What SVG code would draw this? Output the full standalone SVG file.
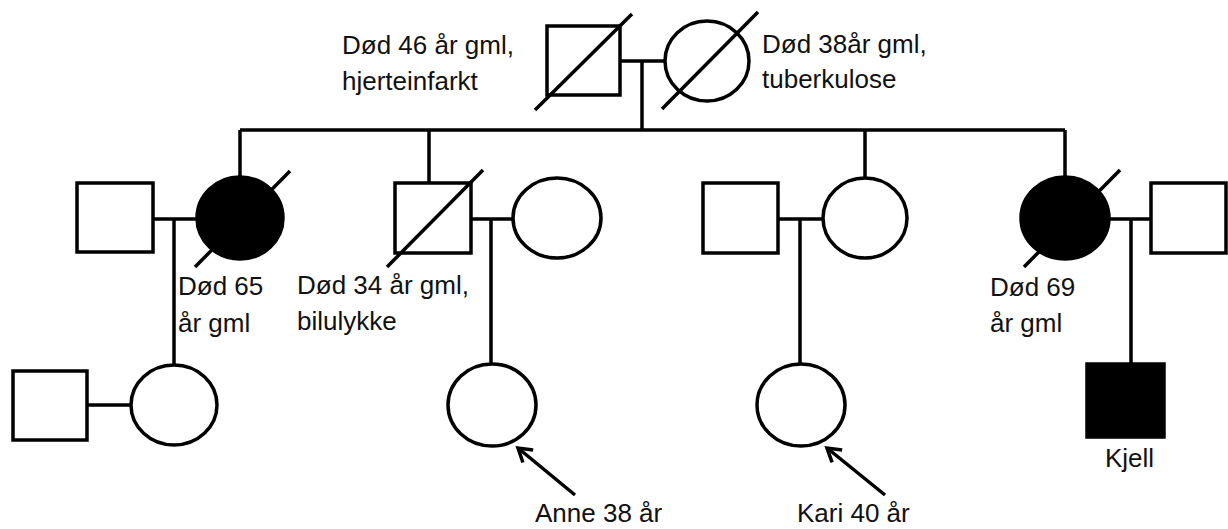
<svg xmlns="http://www.w3.org/2000/svg" width="1228" height="529" viewBox="0 0 1228 529">
<defs>
<style>
.s{fill:#fff;stroke:#000;stroke-width:3.5}
.f{fill:#000;stroke:#000;stroke-width:3.5}
.l{fill:none;stroke:#000;stroke-width:3.5}
.d{fill:none;stroke:#000;stroke-width:3.5}
text{font-family:"Liberation Sans",Arial,sans-serif;font-size:26px;fill:#111}
</style>
<marker id="ah" viewBox="0 0 24 24" refX="21" refY="12" markerWidth="24" markerHeight="24" markerUnits="userSpaceOnUse" orient="auto">
<path d="M8,4 L21,12 L8,20" fill="none" stroke="#000" stroke-width="3.5"/>
</marker>
</defs>
<rect width="1228" height="529" fill="#fff"/>
<g id="connectors">
<path class="l" d="M620,61H665M642,61V130M240,130H1065M240,130V177M429,130V183M865,130V178M1065,130V177"/>
<path class="l" d="M153,219H197M174,219V365M87,405H131"/>
<path class="l" d="M471,219H513M491,219V365"/>
<path class="l" d="M778,219H823M800,219V365"/>
<path class="l" d="M1109,219H1151M1131,219V364"/>
<path class="l" d="M575,495L518,448" marker-end="url(#ah)"/>
<path class="l" d="M885,495L827,448" marker-end="url(#ah)"/>
</g>
<g id="gf">
<rect class="s" x="547" y="26" width="73" height="69"/>
<path class="d" d="M535,110L632,14"/>
<text x="342" y="54">Død 46 år gml,</text>
<text x="342" y="90">hjerteinfarkt</text>
</g>
<g id="gm">
<ellipse class="s" cx="707" cy="61" rx="42" ry="40"/>
<path class="d" d="M662,109L758,12"/>
<text x="762" y="53">Død 38år gml,</text>
<text x="762" y="88">tuberkulose</text>
</g>
<g id="spouse1"><rect class="s" x="77" y="183" width="76" height="69"/></g>
<g id="aunt1">
<ellipse class="f" cx="240" cy="218" rx="43" ry="41"/>
<path class="d" d="M195,267L290,171"/>
<text x="178" y="295">Død 65</text>
<text x="178" y="332">år gml</text>
</g>
<g id="father">
<rect class="s" x="395" y="183" width="76" height="70"/>
<path class="d" d="M387,267L483,170"/>
<text x="297" y="294">Død 34 år gml,</text>
<text x="297" y="330">bilulykke</text>
</g>
<g id="mother"><ellipse class="s" cx="557" cy="218" rx="44" ry="40"/></g>
<g id="spouse3"><rect class="s" x="703" y="183" width="75" height="70"/></g>
<g id="aunt2"><ellipse class="s" cx="865" cy="218" rx="42" ry="40"/></g>
<g id="aunt3">
<ellipse class="f" cx="1065" cy="218" rx="44" ry="41"/>
<path class="d" d="M1024,267L1120,170"/>
<text x="990" y="296">Død 69</text>
<text x="990" y="332">år gml</text>
</g>
<g id="spouse4"><rect class="s" x="1151" y="183" width="75" height="70"/></g>
<g id="cousin1spouse"><rect class="s" x="13" y="371" width="74" height="69"/></g>
<g id="cousin1"><ellipse class="s" cx="174" cy="405" rx="43" ry="40"/></g>
<g id="anne">
<ellipse class="s" cx="492" cy="405" rx="44" ry="41"/>
<text x="535" y="522">Anne 38 år</text>
</g>
<g id="kari">
<ellipse class="s" cx="801" cy="405" rx="44" ry="41"/>
<text x="797" y="522">Kari 40 år</text>
</g>
<g id="kjell">
<rect class="f" x="1087" y="364" width="77" height="73"/>
<text x="1105" y="467">Kjell</text>
</g>
</svg>
